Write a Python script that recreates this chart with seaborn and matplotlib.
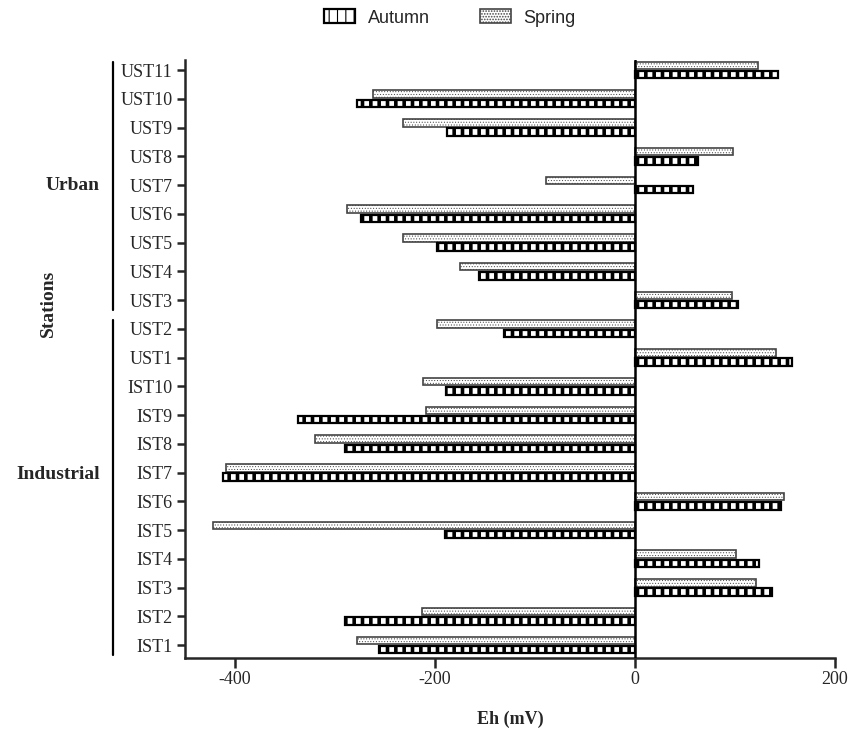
import matplotlib
matplotlib.use("Agg")
import matplotlib.pyplot as plt
import seaborn as sns
import pandas as pd
from matplotlib.patches import Patch
from matplotlib.lines import Line2D

stations = ["UST11", "UST10", "UST9", "UST8", "UST7", "UST6", "UST5", "UST4",
            "UST3", "UST2", "UST1", "IST10", "IST9", "IST8", "IST7", "IST6",
            "IST5", "IST4", "IST3", "IST2", "IST1"]
autumn = [143, -278, -188, 63, 58, -274, -198, -156, 103, -131, 157,
          -189, -337, -290, -412, 146, -190, 124, 137, -290, -256]
spring = [123, -262, -232, 98, -89, -288, -232, -175, 97, -198, 141,
          -212, -209, -320, -409, 149, -422, 101, 121, -213, -278]
seasons = ["Spring", "Autumn"]
x_ticks = [-400, -200, 0, 200]

df = pd.DataFrame({
    "Station": stations * 2,
    "Eh": spring + autumn,
    "Season": ["Spring"] * len(stations) + ["Autumn"] * len(stations),
})

sns.set_style("ticks")
plt.rcParams["font.family"] = ["Liberation Serif", "DejaVu Serif"]
plt.rcParams["hatch.linewidth"] = 0.8

fig = plt.figure(figsize=(8.62, 7.38), dpi=100)
ax = fig.add_axes([185 / 862, 1 - 658 / 738, 650 / 862, 598 / 738])

sns.barplot(data=df, x="Eh", y="Station", hue="Season", hue_order=seasons,
            order=stations, orient="h", width=0.64, gap=0.18,
            palette={"Spring": "white", "Autumn": "white"},
            edgecolor="black", linewidth=1.0, legend=False, ax=ax)

AUT_HATCH = "||"
SPR_HATCH = "......"


def style_autumn(p):
    p.set_hatch(AUT_HATCH)
    p.set_facecolor("white")
    p.set_edgecolor("black")
    p.set_linewidth(1.6)
    if hasattr(p, "set_hatch_linewidth"):
        p.set_hatch_linewidth(2.6)


def style_spring(p):
    p.set_hatch(SPR_HATCH)
    p.set_facecolor("white")
    p.set_edgecolor("#444444")
    p.set_linewidth(1.2)
    if hasattr(p, "set_hatch_linewidth"):
        p.set_hatch_linewidth(0.4)


for bar in ax.containers[0]:
    style_spring(bar)
for bar in ax.containers[1]:
    style_autumn(bar)

ax.set_xlim(-450, 200)
ax.set_ylim(len(stations) - 1 + 0.45, -0.35)
ax.set_xticks(x_ticks)
ax.set_xticklabels([str(t) for t in x_ticks], fontsize=13)
ax.tick_params(axis="y", labelsize=13, length=6, width=1.8, pad=3)
ax.tick_params(axis="x", length=7, width=1.8, pad=2)
ax.axvline(0, color="black", lw=1.8, zorder=5)

for side in ["top", "right"]:
    ax.spines[side].set_visible(False)
for side in ["left", "bottom"]:
    ax.spines[side].set_linewidth(1.8)

ax.set_ylabel("")
ax.set_xlabel("Eh (mV)", fontsize=13, fontweight="bold", labelpad=17)

# group brackets
fig.add_artist(Line2D([113 / 862, 113 / 862], [1 - 62 / 738, 1 - 310 / 738],
                      color="black", lw=1.6, transform=fig.transFigure))
fig.add_artist(Line2D([113 / 862, 113 / 862], [1 - 320 / 738, 1 - 655 / 738],
                      color="black", lw=1.6, transform=fig.transFigure))
fig.text(100 / 862, 1 - 186 / 738, "Urban", ha="right", va="center",
         fontsize=14, fontweight="bold")
fig.text(100 / 862, 1 - 474 / 738, "Industrial", ha="right", va="center",
         fontsize=14, fontweight="bold")
fig.text(48 / 862, 1 - 303 / 738, "Stations", ha="center", va="center",
         rotation=90, fontsize=14, fontweight="bold")

h_aut = Patch(label="Autumn")
style_autumn(h_aut)
h_spr = Patch(label="Spring")
style_spring(h_spr)
leg = fig.legend(handles=[h_aut, h_spr], loc="center",
                 bbox_to_anchor=(450 / 862, 1 - 18 / 738),
                 ncol=2, frameon=False, handlelength=1.7, handleheight=0.8,
                 columnspacing=2.8, handletextpad=0.7,
                 prop={"family": ["Liberation Sans", "DejaVu Sans"], "size": 13})

fig.savefig("out.png", dpi=100)
